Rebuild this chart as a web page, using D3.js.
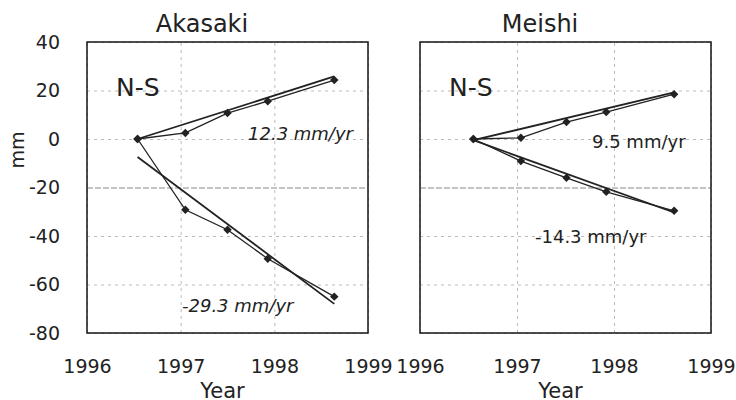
<!DOCTYPE html>
<html>
<head>
<meta charset="utf-8">
<script src="https://cdn.jsdelivr.net/npm/d3@7"></script>
<style>
  body { margin: 0; background: #fff; }
  text { font-family: 'DejaVu Sans', sans-serif; fill: #222; }
</style>
</head>
<body>
<div id="chart"></div>
<script>
// tick labels
const yearTicks = [1996, 1997, 1998, 1999]
const mmTicks = [40, 20, 0, -20, -40, -60, -80]

// Akasaki, N-S component
const akasakiTimes = [1996.54, 1997.05, 1997.5, 1997.93, 1998.64]
const akasakiUp = [0, 2.5, 10.7, 15.6, 24.3]
const akasakiDown = [0, -29.2, -37.4, -49.4, -65.0]
const akasakiFitUp = [0, 25.8] // start / end of fitted line
const akasakiFitDown = [-7.4, -68]

// Meishi, N-S component
const meishiTimes = [1996.55, 1997.04, 1997.51, 1997.92, 1998.62]
const meishiUp = [0, 0.5, 7, 11.1, 18.5]
const meishiDown = [0, -9.1, -16, -21.8, -29.6]
const meishiFitUp = [-0.5, 19.2]
const meishiFitDown = [-0.5, -30.3]

const rateLabels = ['12.3 mm/yr', '-29.3 mm/yr', '9.5 mm/yr', '-14.3 mm/yr']

const width = 736
const height = 400

const svg = d3
  .select('#chart')
  .append('svg')
  .attr('width', width)
  .attr('height', height)

const yPositionScale = d3
  .scaleLinear()
  .domain([-80, 40])
  .range([333, 42])

const panels = [
  {
    name: 'Akasaki',
    x0: 87,
    x1: 368,
    times: akasakiTimes,
    up: akasakiUp,
    down: akasakiDown,
    fitUp: akasakiFitUp,
    fitDown: akasakiFitDown,
    showY: true,
    labels: [
      { text: rateLabels[0], x: 248, y: 140, italic: true },
      { text: rateLabels[1], x: 182, y: 312, italic: true }
    ]
  },
  {
    name: 'Meishi',
    x0: 420,
    x1: 711,
    times: meishiTimes,
    up: meishiUp,
    down: meishiDown,
    fitUp: meishiFitUp,
    fitDown: meishiFitDown,
    showY: false,
    labels: [
      { text: rateLabels[2], x: 592, y: 148, italic: false },
      { text: rateLabels[3], x: 535, y: 243, italic: false }
    ]
  }
]

const line = d3.line()

panels.forEach(p => {
  const xPositionScale = d3
    .scaleLinear()
    .domain([1996, 1999])
    .range([p.x0, p.x1])

  const g = svg.append('g')
  const w = p.x1 - p.x0
  const h = yPositionScale(-80) - yPositionScale(40)

  // gridlines + y labels
  const yAxis = d3
    .axisLeft(yPositionScale)
    .tickValues(mmTicks)
    .tickSize(-w)
    .tickPadding(27)
    .tickFormat(d => (p.showY ? d : ''))

  g.append('g')
    .attr('class', 'axis y-axis')
    .attr('transform', 'translate(' + p.x0 + ',0)')
    .call(yAxis)
    .call(a => a.select('.domain').remove())
    .call(a =>
      a
        .selectAll('line')
        .attr('stroke', d => (d === -20 ? '#888' : '#bbb'))
        .attr('stroke-dasharray', d => (d === -20 ? '6,2' : '3,4'))
    )
    .call(a => a.selectAll('text').attr('font-size', 19).attr('fill', '#222'))

  const xAxis = d3
    .axisBottom(xPositionScale)
    .tickValues(yearTicks)
    .tickSize(-h)
    .tickPadding(26.5)
    .tickFormat(d3.format('d'))

  g.append('g')
    .attr('class', 'axis x-axis')
    .attr('transform', 'translate(0,' + yPositionScale(-80) + ')')
    .call(xAxis)
    .call(a => a.select('.domain').remove())
    .call(a =>
      a
        .selectAll('line')
        .attr('stroke', '#bbb')
        .attr('stroke-dasharray', '3,4')
    )
    .call(a => a.selectAll('text').attr('font-size', 19).attr('fill', '#222'))

  // frame
  g.append('rect')
    .attr('x', p.x0)
    .attr('y', yPositionScale(40))
    .attr('width', w)
    .attr('height', h)
    .attr('fill', 'none')
    .attr('stroke', '#222')
    .attr('stroke-width', 1.6)

  // fitted lines
  const tFirst = p.times[0]
  const tLast = p.times[p.times.length - 1]
  ;[p.fitUp, p.fitDown].forEach(f => {
    g.append('path')
      .attr('d', line([
        [xPositionScale(tFirst), yPositionScale(f[0])],
        [xPositionScale(tLast), yPositionScale(f[1])]
      ]))
      .attr('fill', 'none')
      .attr('stroke', '#222')
      .attr('stroke-width', 1.8)
  })

  // data lines + markers
  ;[p.up, p.down].forEach(series => {
    const pts = series.map((v, i) => [xPositionScale(p.times[i]), yPositionScale(v)])
    g.append('path')
      .attr('d', line(pts))
      .attr('fill', 'none')
      .attr('stroke', '#222')
      .attr('stroke-width', 1.3)

    g.selectAll(null)
      .data(pts)
      .enter()
      .append('path')
      .attr('d', d3.symbol(d3.symbolSquare, 36))
      .attr('transform', d => 'translate(' + d[0] + ',' + d[1] + ') rotate(45)')
      .attr('fill', '#222')
  })

  // title
  g.append('text')
    .attr('x', (p.x0 + p.x1) / 2 - 25.5)
    .attr('y', 32)
    .attr('text-anchor', 'middle')
    .attr('font-size', 24)
    .text(p.name)

  g.append('text')
    .attr('x', p.x0 + 29)
    .attr('y', 96)
    .attr('font-size', 25)
    .text('N-S')

  p.labels.forEach(l => {
    g.append('text')
      .attr('x', l.x)
      .attr('y', l.y)
      .attr('font-size', 18)
      .attr('font-style', l.italic ? 'italic' : 'normal')
      .text(l.text)
  })

  g.append('text')
    .attr('x', (p.x0 + p.x1) / 2 - 5)
    .attr('y', 398)
    .attr('text-anchor', 'middle')
    .attr('font-size', 21)
    .text('Year')
})

svg
  .append('text')
  .attr('transform', 'translate(24,150) rotate(-90)')
  .attr('text-anchor', 'middle')
  .attr('font-size', 19)
  .text('mm')
</script>
</body>
</html>
